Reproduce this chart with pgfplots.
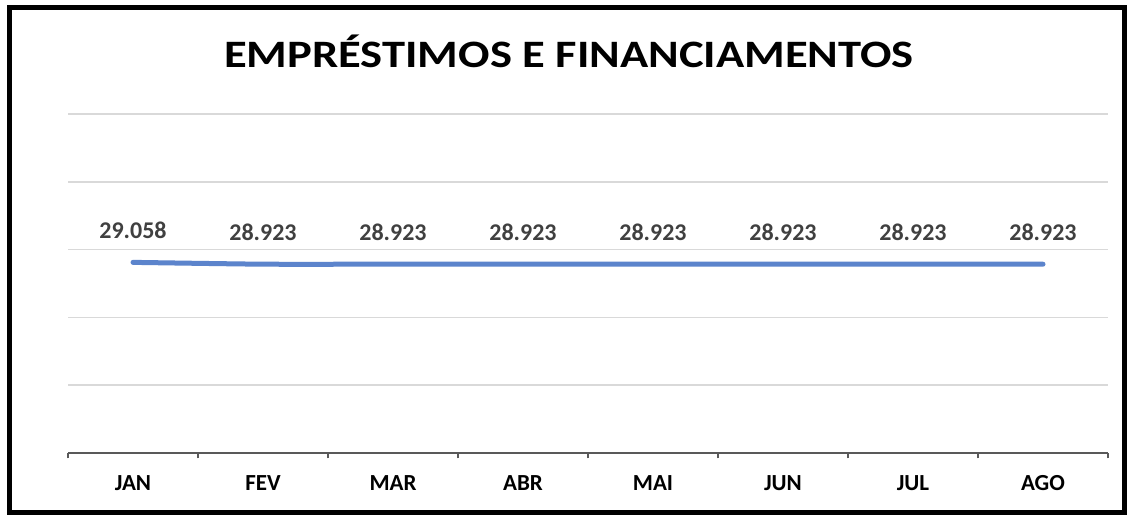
\documentclass[border=0pt]{standalone}
\usepackage{fontspec}
\setmainfont{Carlito}
\usepackage{pgfplots}
\pgfplotsset{compat=1.18}
\definecolor{linecol}{RGB}{92,132,204}
\definecolor{lblcol}{RGB}{64,64,64}
\definecolor{gridcol}{RGB}{217,217,217}
\definecolor{axcol}{RGB}{89,89,89}
\begin{document}
\begin{tikzpicture}[x=0.75pt,y=0.75pt]
\path[fill=white] (0,0) rectangle (1130,516);
\draw[black, line width=3.75pt] (9.5,3) rectangle (1124,508.5);
\node[anchor=base, font=\bfseries\fontsize{29.1pt}{34pt}\selectfont, xscale=1.2] at (569,448.3) {EMPRÉSTIMOS E FINANCIAMENTOS};
\begin{axis}[
  at={(51pt,47.25pt)}, anchor=south west,
  width=780pt, height=254.25pt, scale only axis,
  xmin=-0.5, xmax=7.5, ymin=15000, ymax=40000,
  scaled y ticks=false,
  axis lines*=left,
  y axis line style={draw=none},
  x axis line style={draw=axcol, line width=1.6pt},
  ytick={20000,25000,30000,35000,40000},
  yticklabels={},
  major y tick style={draw=none},
  ymajorgrids=true,
  grid style={draw=gridcol, line width=1.1pt},
  xtick={0,...,7},
  xticklabels={JAN,FEV,MAR,ABR,MAI,JUN,JUL,AGO},
  major x tick style={draw=none},
  minor xtick={-0.5,0.5,...,7.5},
  minor x tick style={draw=axcol, line width=1.6pt},
  minor tick length=4pt,
  tick align=outside,
  xticklabel style={anchor=base, yshift=-24pt, font=\bfseries\fontsize{17.25pt}{20pt}\selectfont, text=black},
  nodes near coords,
  point meta=explicit symbolic,
  every node near coord/.append style={anchor=base, yshift=18pt, font=\bfseries\fontsize{18pt}{21pt}\selectfont, text=lblcol},
  clip=false,
]
\addplot[linecol, line width=3.75pt, line cap=round, smooth, tension=0.3] coordinates {
  (0,29058) [29.058]
  (1,28923) [28.923]
  (2,28923) [28.923]
  (3,28923) [28.923]
  (4,28923) [28.923]
  (5,28923) [28.923]
  (6,28923) [28.923]
  (7,28923) [28.923]
};
\end{axis}
\end{tikzpicture}
\end{document}
